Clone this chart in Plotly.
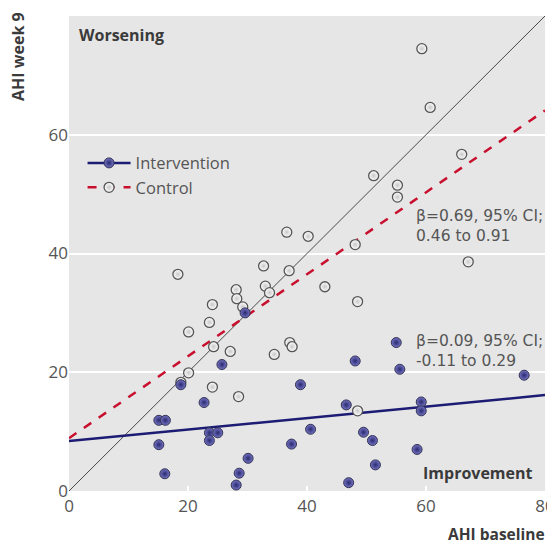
import plotly.graph_objects as go

# Intervention group (filled markers)
int_baseline = [29.6, 25.7, 18.8, 22.7, 15.1, 16.2, 23.6, 25.0, 23.6, 15.1, 30.1, 16.1, 28.6, 28.1,
                55.0, 48.1, 55.6, 76.5, 38.9, 46.6, 59.2, 59.2, 40.6, 49.5, 51.0, 37.4, 58.5, 51.5, 47.0]
int_week9 = [30.0, 21.3, 17.9, 14.9, 11.9, 11.9, 9.8, 9.8, 8.5, 7.8, 5.5, 2.9, 3.0, 1.0,
             25.0, 21.9, 20.5, 19.5, 17.9, 14.5, 15.0, 13.5, 10.4, 9.9, 8.5, 7.9, 7.0, 4.4, 1.4]

# Control group (open markers)
ctl_baseline = [59.3, 60.7, 66.0, 51.2, 55.2, 55.2, 36.6, 40.2, 48.1, 67.1, 37.0, 18.3, 32.7,
                28.1, 28.2, 24.1, 29.2, 33.0, 33.7, 23.6, 20.1, 24.3, 27.1, 34.5, 20.1, 18.8,
                24.1, 28.5, 43.0, 48.5, 37.1, 37.5, 48.5]
ctl_week9 = [74.5, 64.6, 56.7, 53.1, 51.5, 49.5, 43.6, 42.9, 41.5, 38.6, 37.1, 36.5, 37.9,
             33.9, 32.4, 31.4, 31.0, 34.5, 33.4, 28.4, 26.8, 24.3, 23.5, 23.0, 19.9, 18.3,
             17.5, 15.9, 34.4, 31.9, 25.0, 24.3, 13.5]

# Regression lines
fit_groups = ["Intervention", "Control"]
fit_intercept = [8.4, 8.9]
fit_slope = [0.097, 0.69]
line_x = [0, 80]

# Beta annotation texts
beta_text = ["β=0.09, 95% CI;<br>-0.11 to 0.29", "β=0.69, 95% CI;<br>0.46 to 0.91"]

ticks = [0, 20, 40, 60, 80]

BLUE = "#1c1c74"
RED = "#c8102e"
TXT = "#555555"
DARK = "#3a3a3a"
FONT = "Open Sans"

fig = go.Figure()

# identity line
fig.add_trace(go.Scatter(x=line_x, y=line_x, mode="lines",
                         line=dict(color="#4a4a4a", width=1), showlegend=False, hoverinfo="skip"))

# regression lines
fig.add_trace(go.Scatter(x=line_x, y=[fit_intercept[1] + fit_slope[1] * v for v in line_x],
                         mode="lines", line=dict(color=RED, width=2.5, dash="dash"),
                         showlegend=False, hoverinfo="skip"))
fig.add_trace(go.Scatter(x=line_x, y=[fit_intercept[0] + fit_slope[0] * v for v in line_x],
                         mode="lines", line=dict(color=BLUE, width=2.5),
                         showlegend=False, hoverinfo="skip"))

ctl_marker = dict(size=10, color="#ffffff", line=dict(color="#555555", width=1.3),
                  gradient=dict(type="radial", color="#c8c8c8"))
int_marker = dict(size=10, color="#7474c4", line=dict(color="#333355", width=1),
                  gradient=dict(type="radial", color="#2a2a70"))

fig.add_trace(go.Scatter(x=ctl_baseline, y=ctl_week9, mode="markers",
                         marker=ctl_marker, showlegend=False))
fig.add_trace(go.Scatter(x=int_baseline, y=int_week9, mode="markers",
                         marker=int_marker, showlegend=False))

# legend-only traces
fig.add_trace(go.Scatter(x=[None], y=[None], mode="lines+markers", name=fit_groups[0],
                         line=dict(color=BLUE, width=2.5), marker=int_marker))
fig.add_trace(go.Scatter(x=[None], y=[None], mode="lines+markers", name=fit_groups[1],
                         line=dict(color=RED, width=2.5, dash="dash"), marker=ctl_marker))

ann = [
    dict(x=1.3, y=76.8, xref="x", yref="y", text="<b>Worsening</b>", showarrow=False,
         xanchor="left", yanchor="middle", font=dict(size=16, color=DARK, family=FONT)),
    dict(x=78.3, y=3.0, xref="x", yref="y", text="<b>Improvement</b>", showarrow=False,
         xanchor="right", yanchor="middle", font=dict(size=16, color=DARK, family=FONT)),
    dict(x=-0.107, y=0.914, xref="paper", yref="paper", text="<b>AHI week 9</b>", showarrow=False,
         textangle=-90, xanchor="center", yanchor="middle", font=dict(size=16, color=DARK, family=FONT)),
    dict(x=1.005, y=-0.091, xref="paper", yref="paper", text="<b>AHI baseline</b>", showarrow=False,
         xanchor="right", yanchor="middle", font=dict(size=15.5, color=DARK, family=FONT)),
]
beta_y = [23.5, 44.6]
for t, yy in zip(beta_text, beta_y):
    ann.append(dict(x=58.0, y=yy, xref="x", yref="y", text=t, showarrow=False,
                    xanchor="left", yanchor="middle", align="left",
                    font=dict(size=15.5, color=TXT, family="DejaVu Sans")))

# The page body adds an 8 px margin, so the figure is sized to fit the 555x545 window.
fig.update_layout(
    width=547, height=537,
    margin=dict(l=61, r=10, t=8, b=54),
    paper_bgcolor="white", plot_bgcolor="#e6e6e6",
    font=dict(family=FONT, color=TXT, size=16),
    showlegend=True,
    legend=dict(x=0.0285, y=0.727, xanchor="left", yanchor="top", bgcolor="rgba(0,0,0,0)",
                font=dict(size=16.5, color=TXT, family=FONT), itemwidth=43, tracegroupgap=0),
    annotations=ann,
    xaxis=dict(range=[0, 80], tickvals=ticks, showgrid=False, zeroline=False, showline=False,
               automargin=False, ticks="inside", tickcolor="white", ticklen=5, tickwidth=2,
               ticklabelstandoff=3,
               tickfont=dict(size=17, color=TXT, family=FONT)),
    yaxis=dict(range=[0, 80], tickvals=ticks, showgrid=True, gridcolor="white", gridwidth=2,
               automargin=False, zeroline=False, showline=False, ticks="",
               tickfont=dict(size=17, color=TXT, family=FONT)),
)

fig.write_html("out.html")
